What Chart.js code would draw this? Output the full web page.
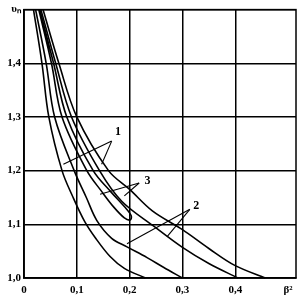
<!DOCTYPE html>
<html><head><meta charset="utf-8">
<script src="https://cdn.jsdelivr.net/npm/chart.js@4/dist/chart.umd.min.js"></script>
<style>html,body{margin:0;padding:0;background:#fff}#wrap{width:304px;height:303px}</style>
</head><body><div id="wrap"><canvas id="c" width="304" height="303"></canvas></div>
<script>
// x ticks (β²) and y ticks (υn)
const xTickValues = [0, 0.1, 0.2, 0.3, 0.4, 0.5];
const xTickLabels = ['0', '0,1', '0,2', '0,3', '0,4', 'β²'];
const yTickValues = [1.0, 1.1, 1.2, 1.3, 1.4, 1.5];
const yTickLabels = ['1,0', '1,1', '1,2', '1,3', '1,4', 'υₙ'];

// curve 1 (lower)
const c1a_x = [0.018, 0.034, 0.047, 0.072, 0.093, 0.115, 0.135, 0.163, 0.19, 0.23];
const c1a_y = [1.5, 1.4, 1.3, 1.2, 1.15, 1.105, 1.075, 1.04, 1.018, 1.0];
// curve 2 (lower)
const c2a_x = [0.022, 0.042, 0.058, 0.095, 0.118, 0.138, 0.166, 0.195, 0.233, 0.264, 0.3];
const c2a_y = [1.5, 1.4, 1.3, 1.2, 1.15, 1.107, 1.074, 1.058, 1.038, 1.02, 1.0];
// curve 3 (closed loop)
const c3_x = [0.03, 0.056, 0.081, 0.131, 0.165, 0.19, 0.203, 0.201, 0.19, 0.17, 0.148, 0.119, 0.072, 0.052, 0.028];
const c3_y = [1.5, 1.4, 1.3, 1.2, 1.16, 1.133, 1.116, 1.108, 1.112, 1.132, 1.16, 1.2, 1.3, 1.4, 1.5];
// curve 2 (upper)
const c2b_x = [0.032, 0.06, 0.09, 0.143, 0.185, 0.245, 0.3, 0.35, 0.405];
const c2b_y = [1.5, 1.4, 1.3, 1.2, 1.143, 1.097, 1.057, 1.027, 1.0];
// curve 1 (upper)
const c1b_x = [0.036, 0.066, 0.1, 0.16, 0.2, 0.243, 0.3, 0.35, 0.4, 0.457];
const c1b_y = [1.5, 1.4, 1.3, 1.2, 1.165, 1.125, 1.09, 1.055, 1.023, 1.0];

// curve labels and leader lines (data coordinates)
const labelText = ['1', '2', '3'];
const labelX = [0.178, 0.326, 0.234];
const labelY = [1.272, 1.134, 1.18];
const leaderFromX = [0.166, 0.166, 0.314, 0.314, 0.218, 0.218];
const leaderFromY = [1.255, 1.255, 1.128, 1.128, 1.177, 1.177];
const leaderToX = [0.0746, 0.147, 0.195, 0.271, 0.144, 0.19];
const leaderToY = [1.212, 1.212, 1.064, 1.077, 1.156, 1.153];

function pts(xs, ys) { return xs.map((x, i) => ({x: x, y: ys[i]})); }
function ds(xs, ys) {
  return {data: pts(xs, ys), borderColor: '#000', borderWidth: 1.6, pointRadius: 0,
          tension: 0.35, fill: false, clip: false};
}

const annot = {
  id: 'annot',
  afterDatasetsDraw(chart) {
    const {ctx, chartArea: a, scales: {x, y}} = chart;
    ctx.save();
    ctx.strokeStyle = '#000';
    ctx.lineWidth = 1.5;
    ctx.strokeRect(a.left, a.top, a.right - a.left, a.bottom - a.top);
    ctx.lineWidth = 1.1;
    for (let i = 0; i < leaderFromX.length; i++) {
      ctx.beginPath();
      ctx.moveTo(x.getPixelForValue(leaderFromX[i]), y.getPixelForValue(leaderFromY[i]));
      ctx.lineTo(x.getPixelForValue(leaderToX[i]), y.getPixelForValue(leaderToY[i]));
      ctx.stroke();
    }
    ctx.fillStyle = '#000';
    ctx.font = 'bold 12px "Liberation Serif"';
    ctx.textAlign = 'center';
    ctx.textBaseline = 'middle';
    for (let i = 0; i < labelText.length; i++) {
      ctx.fillText(labelText[i], x.getPixelForValue(labelX[i]), y.getPixelForValue(labelY[i]));
    }
    ctx.restore();
  }
};

new Chart(document.getElementById('c'), {
  type: 'line',
  data: {datasets: [ds(c1a_x, c1a_y), ds(c2a_x, c2a_y), ds(c3_x, c3_y), ds(c2b_x, c2b_y), ds(c1b_x, c1b_y)]},
  options: {
    responsive: false, animation: false, devicePixelRatio: 1,
    layout: {padding: {top: 9, right: 8, left: 0, bottom: 0}},
    plugins: {legend: {display: false}, tooltip: {enabled: false}},
    scales: {
      x: {
        type: 'linear', min: 0, max: 0.515,
        afterBuildTicks: s => { s.ticks = xTickValues.map(v => ({value: v})); },
        afterFit: s => { s.height = 25; },
        grid: {color: ctx => (ctx.tick && ctx.tick.value === 0.5) ? 'rgba(0,0,0,0)' : '#000',
               lineWidth: 1.5, drawTicks: false},
        border: {color: '#000', width: 1.5},
        ticks: {color: '#000', padding: 6, maxRotation: 0, autoSkip: false,
                font: {family: 'Liberation Serif', size: 11, weight: 'bold'},
                callback: v => { const i = xTickValues.indexOf(Math.round(v * 10) / 10); return i >= 0 ? xTickLabels[i] : ''; }}
      },
      y: {
        type: 'linear', min: 1.0, max: 1.5,
        afterBuildTicks: s => { s.ticks = yTickValues.map(v => ({value: v})); },
        afterFit: s => { s.width = 24; },
        grid: {color: '#000', lineWidth: 1.5, drawTicks: false},
        border: {color: '#000', width: 1.5},
        ticks: {color: '#000', padding: 3, autoSkip: false,
                font: {family: 'Liberation Serif', size: 11, weight: 'bold'},
                callback: v => { const i = yTickValues.indexOf(Math.round(v * 10) / 10); return i >= 0 ? yTickLabels[i] : ''; }}
      }
    }
  },
  plugins: [annot]
});
</script></body></html>
